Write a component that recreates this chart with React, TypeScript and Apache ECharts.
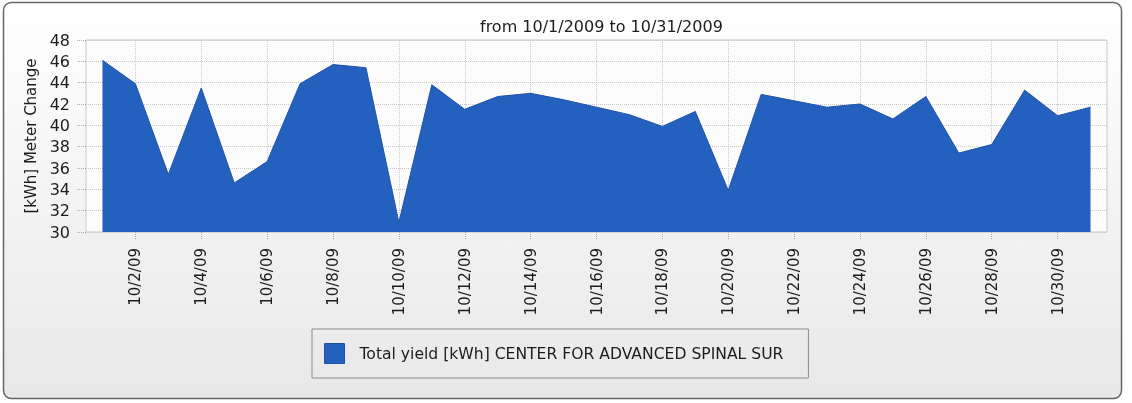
import React, { useEffect, useRef } from "react";
import * as echarts from "echarts";

const categories = [
  "10/1/09", "10/2/09", "10/3/09", "10/4/09", "10/5/09", "10/6/09", "10/7/09", "10/8/09",
  "10/9/09", "10/10/09", "10/11/09", "10/12/09", "10/13/09", "10/14/09", "10/15/09", "10/16/09",
  "10/17/09", "10/18/09", "10/19/09", "10/20/09", "10/21/09", "10/22/09", "10/23/09", "10/24/09",
  "10/25/09", "10/26/09", "10/27/09", "10/28/09", "10/29/09", "10/30/09", "10/31/09",
];

const meterChange = [
  46.1, 43.9, 35.4, 43.5, 34.6, 36.6, 43.9, 45.7, 45.4, 30.9, 43.8, 41.5, 42.7, 43.0, 42.4, 41.7,
  41.0, 39.9, 41.3, 33.9, 42.9, 42.3, 41.7, 42.0, 40.6, 42.7, 37.4, 38.2, 43.3, 40.9, 41.7,
];

const yMin = 30;
const yMax = 48;
const yStep = 2;

const titleText = "from 10/1/2009 to 10/31/2009";
const seriesName = "Total yield [kWh] CENTER FOR ADVANCED SPINAL SUR";
const yAxisName = "[kWh] Meter Change";

export default function App() {
  const ref = useRef<HTMLDivElement>(null);

  useEffect(() => {
    if (!ref.current) return;
    const chart = echarts.init(ref.current, null, { renderer: "svg" });
    const font = "'DejaVu Sans', sans-serif";
    const textColor = "#1c1c1c";
    const everyOther = (i: number) => i % 2 === 1;

    chart.setOption({
      animation: false,
      backgroundColor: "transparent",
      graphic: [
        {
          type: "rect",
          z: -100,
          silent: true,
          shape: { x: 3.5, y: 2.5, width: 1118, height: 396, r: 8 },
          style: {
            fill: new echarts.graphic.LinearGradient(0, 0, 0, 1, [
              { offset: 0, color: "#ffffff" },
              { offset: 1, color: "#e8e8e8" },
            ]),
            stroke: "#666666",
            lineWidth: 1.5,
          },
        },
      ],
      title: {
        text: titleText,
        left: 480,
        top: 18,
        padding: 0,
        textStyle: { fontSize: 16, fontWeight: "normal", color: textColor, fontFamily: font },
      },
      legend: {
        show: true,
        left: 312,
        top: 329,
        orient: "horizontal",
        padding: [14, 25, 14, 12],
        itemWidth: 20,
        itemHeight: 20,
        icon: "rect",
        borderColor: "#8a8a8a",
        borderWidth: 1,
        itemStyle: { borderColor: "#1f52a6", borderWidth: 1 },
        textStyle: { fontSize: 15.6, color: textColor, fontFamily: font, padding: [0, 0, 0, 10] },
        data: [seriesName],
      },
      grid: {
        left: 86,
        top: 40,
        width: 1021,
        height: 192,
        show: true,
        backgroundColor: "#fcfcfc",
        borderColor: "#c8c8c8",
        borderWidth: 1,
      },
      xAxis: {
        type: "category",
        data: categories,
        boundaryGap: true,
        axisLine: { show: false },
        axisTick: {
          show: true,
          interval: everyOther,
          alignWithLabel: true,
          length: 8,
          lineStyle: { color: "#aaaaaa", type: "dotted" },
        },
        axisLabel: {
          interval: everyOther,
          rotate: 90,
          fontSize: 15,
          color: textColor,
          fontFamily: font,
          margin: 16,
        },
        splitLine: {
          show: true,
          interval: everyOther,
          alignWithLabel: true,
          lineStyle: { color: "#c8c8c8", type: "dotted" },
        },
      },
      yAxis: {
        type: "value",
        min: yMin,
        max: yMax,
        interval: yStep,
        name: yAxisName,
        nameLocation: "middle",
        nameGap: 44,
        nameTextStyle: { fontSize: 15, color: textColor, fontFamily: font },
        axisLine: { show: false },
        axisTick: { show: true, length: 10, lineStyle: { color: "#aaaaaa", type: "dotted" } },
        axisLabel: { fontSize: 16, color: textColor, fontFamily: font, margin: 16 },
        splitLine: { show: true, lineStyle: { color: "#c8c8c8", type: "dotted" } },
      },
      series: [
        {
          name: seriesName,
          type: "line",
          data: meterChange,
          symbol: "none",
          lineStyle: { color: "#1f52a6", width: 1 },
          itemStyle: { color: "#2461bf" },
          areaStyle: { color: "#2461bf", opacity: 1 },
        },
      ],
    });

    return () => chart.dispose();
  }, []);

  return (
    <div
      ref={ref}
      style={{ position: "fixed", left: 0, top: 0, width: 1132, height: 403 }}
    />
  );
}
